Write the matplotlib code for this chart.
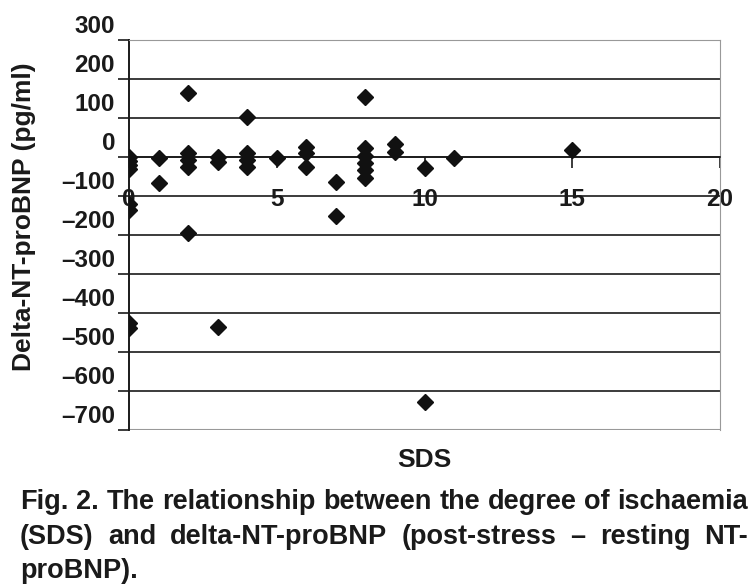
import matplotlib
matplotlib.use('Agg')
import matplotlib.pyplot as plt
import matplotlib.transforms as mtransforms

# SDS score and delta NT-proBNP (pg/ml)
sds = [0, 0, 0, 0, 0, 0, 0, 0,
       1, 1,
       2, 2, 2, 2, 2,
       3, 3, 3,
       4, 4, 4, 4,
       5,
       6, 6, 6,
       7, 7,
       8, 8, 8, 8, 8, 8,
       9, 9,
       10, 10,
       11,
       15]
delta_bnp = [0, -10, -20, -30, -120, -135, -425, -438,
             -3, -67,
             165, 10, -8, -26, -195,
             0, -12, -436,
             102, 10, -8, -26,
             -3,
             26, 10, -25,
             -63, -151,
             154, 23, 3, -15, -33, -55,
             33, 13,
             -28, -628,
             -3,
             18]

x_ticks = [0, 5, 10, 15, 20]
y_ticks = [300, 200, 100, 0, -100, -200, -300, -400, -500, -600, -700]

caption_lines = [
    "Fig. 2. The relationship between the degree of ischaemia",
    "(SDS) and delta-NT-proBNP (post-stress \u2013 resting NT-",
    "proBNP).",
]

plt.rcParams['font.family'] = ['Liberation Sans', 'DejaVu Sans']
plt.rcParams['font.weight'] = 'bold'

fig = plt.figure(figsize=(7.52, 5.85), dpi=100)
ax = fig.add_axes([129 / 752, 1 - 430 / 585, (720 - 129) / 752, 390 / 585])

# inner gridlines (frame lines at top/bottom are grey)
for v in y_ticks[1:-1]:
    ax.axhline(v, color='#1a1a1a', lw=1.2, zorder=1)

ax.plot(sds, delta_bnp, linestyle='none', marker='D', ms=8.5,
        color='#111111', zorder=3)

ax.set_xlim(0, 20)
ax.set_ylim(-700, 300)
ax.set_xticks(x_ticks)
ax.set_yticks(y_ticks)
ax.set_yticklabels([str(v).replace('-', '\u2013') for v in y_ticks])

ax.spines['bottom'].set_position(('data', 0))
ax.spines['bottom'].set_color('#1a1a1a')
ax.spines['bottom'].set_linewidth(1.2)
ax.spines['left'].set_color('#1a1a1a')
ax.spines['left'].set_linewidth(1.4)
ax.spines['top'].set_color('#999999')
ax.spines['right'].set_color('#999999')
ax.axhline(-700, color='#999999', lw=1.5, zorder=1)

ax.tick_params(axis='x', direction='out', length=8, width=1.2,
               pad=14, labelsize=17.5, colors='#1a1a1a')
ax.tick_params(axis='y', direction='out', length=8, width=1.2,
               pad=2, labelsize=17.5, colors='#1a1a1a')

# y tick labels sit a bit above their gridlines in the original
shift = mtransforms.ScaledTranslation(0, 0.16, fig.dpi_scale_trans)
for lab in ax.get_yticklabels():
    lab.set_transform(lab.get_transform() + shift)

ax.set_xlabel('SDS', fontsize=19, fontweight='bold', color='#1a1a1a')
ax.set_ylabel('Delta-NT-proBNP (pg/ml)', fontsize=19, fontweight='bold',
              color='#1a1a1a')
ax.xaxis.set_label_coords(0.5, -0.047)
ax.yaxis.set_label_coords(-0.158, 0.546)

# caption, justified like the journal text
cap_font = dict(family=['Liberation Sans Narrow', 'Liberation Sans', 'DejaVu Sans'],
                fontsize=19.5, fontweight='bold', color='#1a1a1a')
left, right = 20 / 752, 748 / 752
baselines = [509, 544, 578]
fig.canvas.draw()
renderer = fig.canvas.get_renderer()
for i, line in enumerate(caption_lines):
    yb = 1 - baselines[i] / 585
    words = line.split(' ')
    if i == len(caption_lines) - 1:
        fig.text(left, yb, line, va='baseline', ha='left', **cap_font)
        continue
    texts = [fig.text(0, yb, w, va='baseline', ha='left', **cap_font) for w in words]
    widths = [t.get_window_extent(renderer).width / 752 for t in texts]
    gap = (right - left - sum(widths)) / (len(words) - 1)
    xpos = left
    for t, w in zip(texts, widths):
        t.set_x(xpos)
        xpos += w + gap

fig.savefig('out.png', dpi=100)
